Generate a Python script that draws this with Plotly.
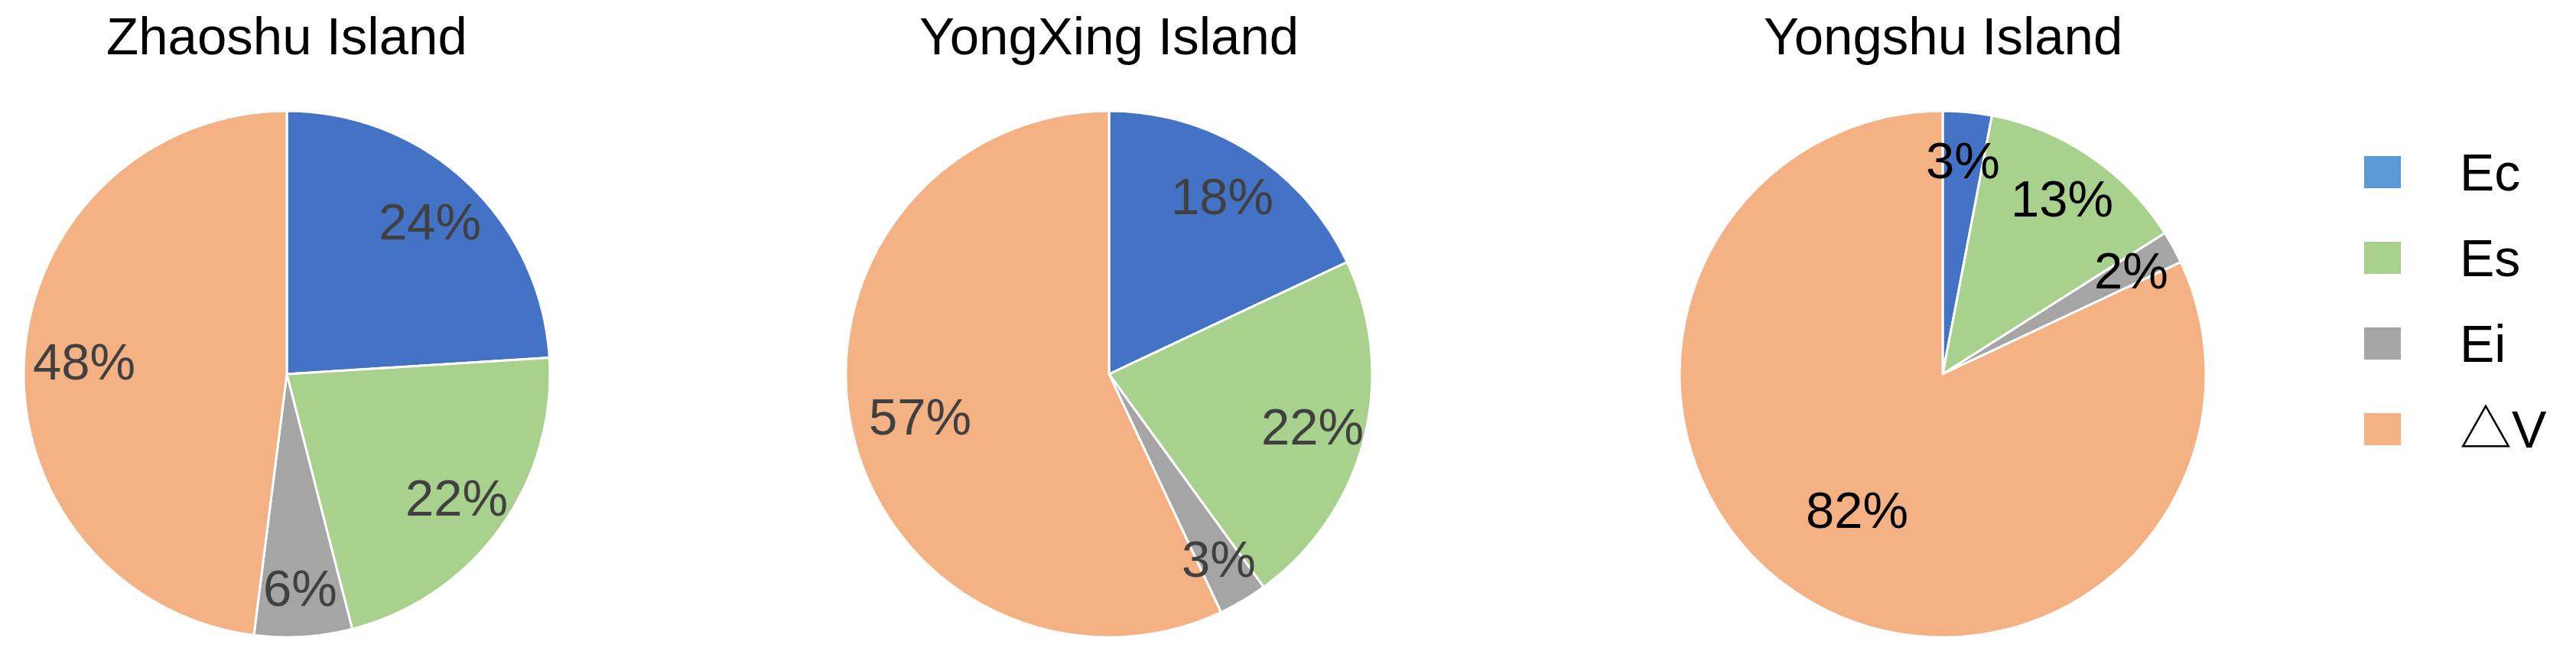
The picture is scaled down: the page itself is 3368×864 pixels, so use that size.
import math

import plotly.graph_objects as go

W, H = 3368, 864

components = ["Ec", "Es", "Ei", "△V"]
islands = ["Zhaoshu Island", "YongXing Island", "Yongshu Island"]
zhaoshu = [24, 22, 6, 48]
yongxing = [18, 22, 3, 57]
yongshu = [3, 13, 2, 82]
shares = [zhaoshu, yongxing, yongshu]

pie_colors = ["#4472C4", "#A9D18E", "#A5A5A5", "#F4B183"]
legend_colors = ["#5B9BD5", "#A9D18E", "#A5A5A5", "#F4B183"]
label_colors = ["#404040", "#404040", "#000000"]

FONT = "Liberation Sans, Arial, Noto Sans CJK SC, sans-serif"

centers_x = [367, 1442, 2532]
center_y = 481
radius = 344

fig = go.Figure()

for i, (name, vals) in enumerate(zip(islands, shares)):
    cx = centers_x[i]
    dom_x = [(cx - radius) / W, (cx + radius) / W]
    dom_y = [(H - center_y - radius) / H, (H - center_y + radius) / H]

    fig.add_trace(go.Pie(
        labels=components,
        values=vals,
        sort=False,
        direction="clockwise",
        rotation=0,
        marker=dict(colors=pie_colors, line=dict(color="white", width=3)),
        textinfo="none",
        hoverinfo="label+percent",
        showlegend=False,
        domain=dict(x=dom_x, y=dom_y),
    ))

    # percentage labels at the middle angle of each slice; big slices
    # get their label pulled towards the centre ("best fit" look)
    total = sum(vals)
    acc = 0
    for v in vals:
        frac = v / total
        mid = math.radians((acc + v / 2) / total * 360)
        acc += v
        r = (0.82 - 0.1 * frac - 0.4 * max(0.0, frac - 0.5)) * radius
        lx = cx + r * math.sin(mid)
        ly = center_y - r * math.cos(mid)
        fig.add_annotation(
            x=lx / W, y=(H - ly) / H, xref="paper", yref="paper",
            text=f"{v}%", showarrow=False, xanchor="center", yanchor="middle",
            font=dict(family=FONT, size=67, color=label_colors[i]),
        )

    fig.add_annotation(
        x=cx / W, y=(H - 40) / H, xref="paper", yref="paper",
        text=name, showarrow=False, xanchor="center", yanchor="middle",
        font=dict(family=FONT, size=69, color="black"),
    )

# legend drawn by hand so the swatches match the original size
legend_y = [217, 329, 441, 553]
for name, col, ly in zip(components, legend_colors, legend_y):
    fig.add_shape(
        type="rect", xref="paper", yref="paper",
        x0=3083 / W, x1=3131 / W,
        y0=(H - ly - 21) / H, y1=(H - ly + 21) / H,
        fillcolor=col, line=dict(width=0),
    )
    fig.add_annotation(
        x=3206 / W, y=(H - ly) / H, xref="paper", yref="paper",
        text=name, showarrow=False, xanchor="left", yanchor="middle",
        font=dict(family=FONT, size=68, color="black"),
    )

fig.update_layout(
    width=W,
    height=H,
    margin=dict(l=0, r=0, t=0, b=0),
    paper_bgcolor="white",
    plot_bgcolor="white",
)

fig.write_html("out.html")
